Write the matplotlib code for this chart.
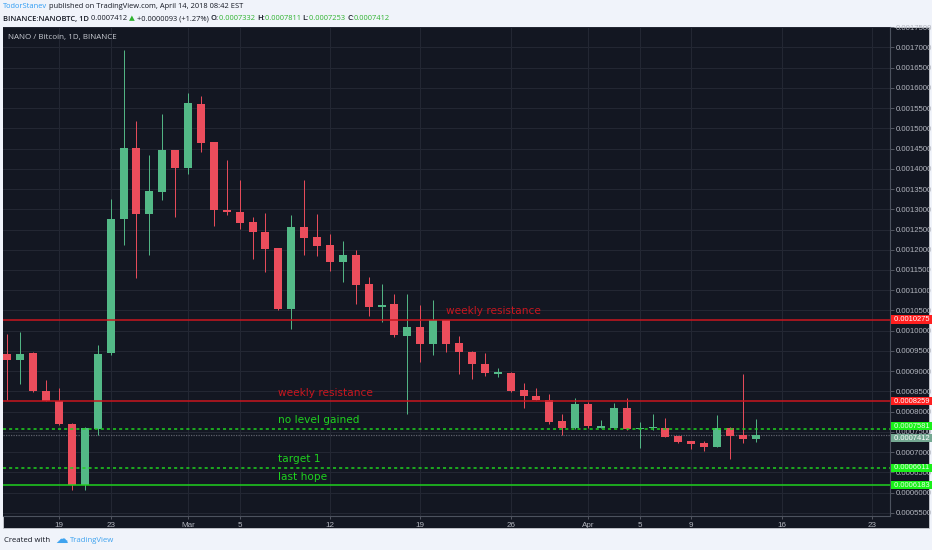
import matplotlib
matplotlib.use("Agg")
import matplotlib.pyplot as plt
import matplotlib.dates as mdates
from matplotlib.patches import Rectangle
import numpy as np
import pandas as pd

# ------------------------------------------------------------
# data (NANO/BTC daily)
# ------------------------------------------------------------
dates = pd.date_range("2018-02-15", "2018-04-14", freq="D")

opens = [0.0009435, 0.0009270, 0.0009460, 0.0008510, 0.0008266, 0.0007690, 0.0006190,
         0.0007580, 0.0009440, 0.0012750, 0.0014520, 0.0012877, 0.0013430, 0.0014460,
         0.0014030, 0.0015610, 0.0014662, 0.0012992, 0.0012925, 0.0012678, 0.0012430,
         0.0012044, 0.0010529, 0.0012562, 0.0012308, 0.0012110, 0.0011698, 0.0011881,
         0.0011147, 0.0010579, 0.0010653, 0.0009870, 0.0010092, 0.0009682, 0.0010258,
         0.0009697, 0.0009475, 0.0009188, 0.0008931, 0.0008966, 0.0008530, 0.0008380,
         0.0008299, 0.0007763, 0.0007583, 0.0008200, 0.0007597, 0.0007607, 0.0008101,
         0.0007558, 0.0007590, 0.0007583, 0.0007393, 0.0007269, 0.0007212, 0.0007128,
         0.0007597, 0.0007417, 0.0007332]
highs = [0.0009929, 0.0009970, 0.0009470, 0.0008790, 0.0008571, 0.0007720, 0.0007620,
         0.0009640, 0.0013264, 0.0016927, 0.0015182, 0.0014334, 0.0015346, 0.0014470,
         0.0015873, 0.0015790, 0.0014670, 0.0014210, 0.0013716, 0.0012810, 0.0012908,
         0.0012050, 0.0012851, 0.0013733, 0.0012876, 0.0012382, 0.0012209, 0.0011987,
         0.0011327, 0.0011164, 0.0010900, 0.0010917, 0.0010628, 0.0010752, 0.0010270,
         0.0009863, 0.0009490, 0.0009450, 0.0009089, 0.0008980, 0.0008709, 0.0008571,
         0.0008430, 0.0007953, 0.0008348, 0.0008240, 0.0007788, 0.0008225, 0.0008348,
         0.0007746, 0.0007936, 0.0007830, 0.0007400, 0.0007280, 0.0007269, 0.0007911,
         0.0007610, 0.0008941, 0.0007811]
lows = [0.0008283, 0.0008694, 0.0008480, 0.0008250, 0.0007670, 0.0006060, 0.0006060,
        0.0007420, 0.0009400, 0.0012111, 0.0011312, 0.0011864, 0.0013222, 0.0012811,
        0.0013865, 0.0014415, 0.0012579, 0.0012851, 0.0012523, 0.0011782, 0.0011451,
        0.0010505, 0.0010053, 0.0011881, 0.0011839, 0.0011468, 0.0011204, 0.0010670,
        0.0010357, 0.0010216, 0.0009850, 0.0007953, 0.0009228, 0.0009393, 0.0009475,
        0.0008917, 0.0008818, 0.0008874, 0.0008857, 0.0008480, 0.0008101, 0.0008290,
        0.0007689, 0.0007417, 0.0007560, 0.0007583, 0.0007583, 0.0007590, 0.0007540,
        0.0007089, 0.0007550, 0.0007370, 0.0007220, 0.0007064, 0.0007022, 0.0007120,
        0.0006817, 0.0007212, 0.0007253]
closes = [0.0009270, 0.0009435, 0.0008505, 0.0008266, 0.0007682, 0.0006183, 0.0007583,
          0.0009435, 0.0012753, 0.0014523, 0.0012893, 0.0013445, 0.0014457, 0.0014029,
          0.0015627, 0.0014647, 0.0012975, 0.0012925, 0.0012661, 0.0012431, 0.0012029,
          0.0010529, 0.0012562, 0.0012300, 0.0012086, 0.0011698, 0.0011881, 0.0011122,
          0.0010586, 0.0010646, 0.0009887, 0.0010092, 0.0009682, 0.0010258, 0.0009682,
          0.0009475, 0.0009188, 0.0008956, 0.0008980, 0.0008511, 0.0008380, 0.0008299,
          0.0007746, 0.0007597, 0.0008200, 0.0007640, 0.0007640, 0.0008101, 0.0007558,
          0.0007583, 0.0007597, 0.0007376, 0.0007237, 0.0007195, 0.0007128, 0.0007597,
          0.0007393, 0.0007318, 0.0007412]

# horizontal levels drawn by the author
level_prices = [0.0010275, 0.0008259, 0.0007581, 0.0006611, 0.0006183]
level_labels = ["weekly resistance", "weekly resistance", "no level gained", "target 1", "last hope"]
level_label_dates = ["2018-03-21", "2018-03-08", "2018-03-08", "2018-03-08", "2018-03-08"]
level_colors = ["#c9161f", "#c9161f", "#1fd11f", "#1fd11f", "#1fd11f"]
level_styles = ["-", "-", (0, (2, 2)), (0, (2, 2)), "-"]
last_price = 0.0007412

xtick_dates = ["2018-02-19", "2018-02-23", "2018-03-01", "2018-03-05", "2018-03-12", "2018-03-19",
               "2018-03-26", "2018-04-01", "2018-04-05", "2018-04-09", "2018-04-16", "2018-04-23"]
xtick_labels = ["19", "23", "Mar", "5", "12", "19", "26", "Apr", "5", "9", "16", "23"]

# ------------------------------------------------------------
# colours / figure geometry
# ------------------------------------------------------------
BG = "#131722"
GRID = "#232733"
AXTXT = "#b2b5be"
UP = "#53b987"
DOWN = "#eb4d5c"
W, H = 932, 550

fig = plt.figure(figsize=(W / 100, H / 100), dpi=100, facecolor="#f0f3fa")


def fx(px):
    return px / W


def fy(py):
    return 1 - py / H


# dark panel behind plot + both axes
fig.patches.append(Rectangle((fx(3), fy(528)), fx(926), (528 - 27) / H,
                             transform=fig.transFigure, facecolor=BG, edgecolor="#c9ccd3",
                             linewidth=0.6, zorder=-5))

ax = fig.add_axes([fx(3), fy(516), fx(887), (516 - 27) / H])
ax.set_facecolor(BG)

x = mdates.date2num(dates)
o = np.array(opens)
c = np.array(closes)
hi = np.array(highs)
lo = np.array(lows)
up = c >= o
cols = np.where(up, UP, DOWN)

# wicks then bodies
ax.vlines(x, lo, hi, colors=cols, linewidth=0.7, zorder=3)
body = np.maximum(np.abs(c - o), 0.0000025)
ax.bar(x, body, bottom=np.minimum(o, c), width=0.62, color=cols, linewidth=0, zorder=4)


def price_tag(price, fc, tc, dy=0, z=10):
    ax.annotate(f" {price:.7f} ", xy=(1.0, price), xycoords=ax.get_yaxis_transform(),
                xytext=(1.5, dy), textcoords="offset points", ha="left", va="center",
                fontsize=5.4, color=tc, family="Liberation Sans",
                bbox=dict(boxstyle="square,pad=0.08", fc=fc, ec="none"),
                annotation_clip=False, zorder=z)


# horizontal levels + labels
for price, lab, d, col, ls in zip(level_prices, level_labels, level_label_dates,
                                  level_colors, level_styles):
    ax.axhline(price, color=col, linestyle=ls, linewidth=1.1, zorder=5)
    ax.annotate(lab, xy=(mdates.date2num(pd.Timestamp(d)), price), xytext=(0, 2.5),
                textcoords="offset points", color=col, fontsize=7.6,
                family="DejaVu Sans", ha="left", va="bottom", zorder=6)
    red = col.startswith("#c9")
    price_tag(price, "#ff1f1f" if red else "#19f019", "white" if red else "#e6ffe6",
              dy=1.6 if price == 0.0007581 else 0)

ax.axhline(last_price, color="#5d606b", linestyle=(0, (1, 1)), linewidth=0.9, zorder=2)
price_tag(last_price, "#74a892", "white", dy=-2.0, z=9)

# axes limits, ticks, grid
x0 = mdates.date2num(pd.Timestamp("2018-02-19"))
ax.set_xlim(x0 - 4.34, x0 + 64.4)
ax.set_ylim(0.000542, 0.0017505)

yt = np.arange(0.00055, 0.0017501, 0.00005)
ax.set_yticks(yt)
ax.set_yticklabels([f"{v:.7f}" for v in yt])
ax.yaxis.tick_right()
ax.tick_params(axis="y", colors=AXTXT, labelsize=5.6, length=3, width=0.6, pad=1.5,
               color="#5d606b")
ax.set_xticks(mdates.date2num(pd.to_datetime(xtick_dates)))
ax.set_xticklabels(xtick_labels)
ax.tick_params(axis="x", colors=AXTXT, labelsize=5.8, length=2, width=0.6, pad=2,
               color="#5d606b")
for t in ax.get_xticklabels() + ax.get_yticklabels():
    t.set_family("Liberation Sans")
ax.grid(True, color=GRID, linewidth=0.8, zorder=0)
ax.set_axisbelow(True)

for s in ["top", "left"]:
    ax.spines[s].set_visible(False)
for s in ["right", "bottom"]:
    ax.spines[s].set_color("#4c525e")
    ax.spines[s].set_linewidth(0.8)

ax.text(0.006, 0.985, "NANO / Bitcoin, 1D, BINANCE", transform=ax.transAxes,
        ha="left", va="top", fontsize=5.8, color="#c8cbd2", family="Open Sans")

# ------------------------------------------------------------
# header / footer text runs
# ------------------------------------------------------------
renderer = fig.canvas.get_renderer()


def put_run(x_px, y_px, pieces, size):
    for txt, col, wt in pieces:
        t = fig.text(fx(x_px), fy(y_px), txt, color=col, fontsize=size, fontweight=wt,
                     family=["Open Sans", "DejaVu Sans"], ha="left", va="center")
        bb = t.get_window_extent(renderer)
        x_px = bb.x1


DARK = "#131722"
GRN = "#2fb32f"
put_run(3, 7, [("TodorStanev", "#2e9cf4", "normal"),
               (" published on TradingView.com, April 14, 2018 08:42 EST", DARK, "normal")], 5.4)
put_run(3, 19, [("BINANCE:NANOBTC, 1D", DARK, "semibold"),
                (" 0.0007412 ", DARK, "normal"),
                ("▲", GRN, "normal"),
                (" +0.0000093 (+1.27%) ", DARK, "normal"),
                ("O:", DARK, "semibold"), ("0.0007332 ", GRN, "normal"),
                ("H:", DARK, "semibold"), ("0.0007811 ", GRN, "normal"),
                ("L:", DARK, "semibold"), ("0.0007253 ", GRN, "normal"),
                ("C:", DARK, "semibold"), ("0.0007412", GRN, "normal")], 5.4)

put_run(4, 540, [("Created with", DARK, "normal")], 5.6)
fig.text(fx(55), fy(539), "☁", color="#3fa3ef", fontsize=9, family="DejaVu Sans",
         ha="left", va="center")
fig.text(fx(70), fy(540), "TradingView", color="#3fa3ef", fontsize=5.6,
         family="Open Sans", ha="left", va="center")

fig.savefig("out.png", dpi=100, facecolor=fig.get_facecolor())
